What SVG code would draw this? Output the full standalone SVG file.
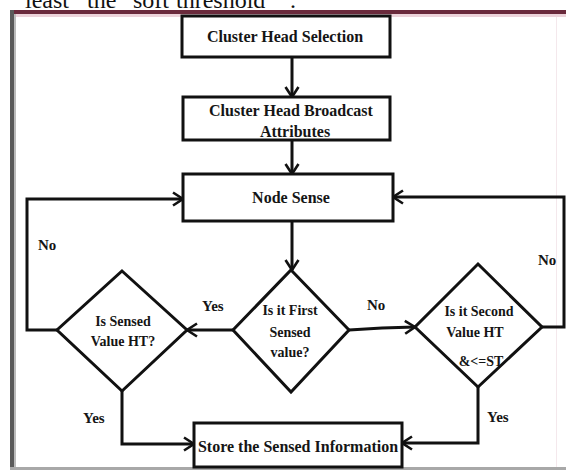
<svg xmlns="http://www.w3.org/2000/svg" width="566" height="470" viewBox="0 0 566 470">
<defs>
<style>
.t{font-family:"Liberation Serif","Times New Roman",serif;font-weight:bold;fill:#151515;text-anchor:middle}
.b{font-size:16px}
.d{font-size:14px}
.l{font-family:"Liberation Serif","Times New Roman",serif;font-weight:bold;fill:#151515;font-size:15px}
.box{fill:#fff;stroke:#111;stroke-width:3}
.dia{fill:#fff;stroke:#111;stroke-width:3;stroke-linejoin:miter}
.c{fill:none;stroke:#111;stroke-width:3}
</style>
<marker id="ah" markerUnits="userSpaceOnUse" markerWidth="14" markerHeight="16" viewBox="0 0 14 16" refX="12" refY="8" orient="auto">
<path d="M2,1.5 L12,8 L2,14.5" fill="none" stroke="#111" stroke-width="2.6"/>
</marker>
</defs>
<rect width="566" height="470" fill="#fff"/>
<text x="25" y="8" font-family="'Liberation Serif','Times New Roman',serif" font-size="24" fill="#111">least</text>
<text x="87" y="8" font-family="'Liberation Serif','Times New Roman',serif" font-size="24" fill="#111">the</text>
<text x="133" y="8" font-family="'Liberation Serif','Times New Roman',serif" font-size="24" fill="#111">soft</text>
<text x="176" y="8" font-family="'Liberation Serif','Times New Roman',serif" font-size="24" fill="#111">threshold</text>
<text x="290" y="8" font-family="'Liberation Serif','Times New Roman',serif" font-size="24" fill="#111">.</text>
<g id="frame">
<rect x="10" y="14" width="556" height="3" fill="#ecd3da"/>
<rect x="10" y="10" width="556" height="4" fill="#6a2a3c"/>
<rect x="10" y="10" width="4" height="460" fill="#5a5a5a"/>
<rect x="14" y="14" width="2" height="456" fill="#bbb"/>
<rect x="10" y="467" width="556" height="3" fill="#a8a8a8"/>
<rect x="556" y="17" width="1" height="450" fill="#f4e8ec"/>
</g>
<g id="connectors">
<line class="c" x1="292" y1="57" x2="292" y2="97" marker-end="url(#ah)"/>
<line class="c" x1="292" y1="140" x2="292" y2="174" marker-end="url(#ah)"/>
<line class="c" x1="292" y1="221" x2="292" y2="270" marker-end="url(#ah)"/>
<line class="c" x1="233" y1="330" x2="187" y2="330" marker-end="url(#ah)"/>
<polyline class="c" points="349,330 382,328 415,327" marker-end="url(#ah)"/>
<polyline class="c" points="57,330 27,330 27,199 183,199" marker-end="url(#ah)"/>
<polyline class="c" points="542,327 564,327 564,197 393,197" marker-end="url(#ah)"/>
<polyline class="c" points="122,391 122,444 194,444" marker-end="url(#ah)"/>
<polyline class="c" points="478,387 478,443 402,443" marker-end="url(#ah)"/>
</g>
<g id="n1">
<rect class="box" x="182" y="16" width="208" height="41"/>
<text class="t b" x="285" y="42">Cluster Head Selection</text>
</g>
<g id="n2">
<rect class="box" x="183" y="97" width="207" height="43"/>
<text class="t b" x="291" y="116">Cluster Head Broadcast</text>
<text class="t b" x="295" y="137">Attributes</text>
</g>
<g id="n3">
<rect class="box" x="183" y="174" width="210" height="47"/>
<text class="t b" x="291" y="203">Node Sense</text>
</g>
<g id="d1">
<polygon class="dia" points="291,270 349,330 291,392 233,330"/>
<text class="t d" x="290" y="315">Is it First</text>
<text class="t d" x="290" y="337">Sensed</text>
<text class="t d" x="290" y="357">value?</text>
</g>
<g id="d2">
<polygon class="dia" points="122,271 187,330 122,391 57,330"/>
<text class="t d" x="123" y="326">Is Sensed</text>
<text class="t d" x="123" y="346">Value HT?</text>
</g>
<g id="d3">
<polygon class="dia" points="478,264 542,327 478,387 415,327"/>
<text class="t d" x="479" y="316">Is it Second</text>
<text class="t d" x="475" y="337">Value HT</text>
<text class="t d" x="481" y="366">&amp;&lt;=ST</text>
</g>
<g id="n4">
<rect class="box" x="194" y="423" width="208" height="44"/>
<text class="t b" x="298" y="452">Store the Sensed Information</text>
</g>
<g id="labels">
<text class="l" x="38" y="250">No</text>
<text class="l" x="202" y="311">Yes</text>
<text class="l" x="367" y="310">No</text>
<text class="l" x="538" y="265">No</text>
<text class="l" x="83" y="423">Yes</text>
<text class="l" x="487" y="422">Yes</text>
</g>
</svg>
